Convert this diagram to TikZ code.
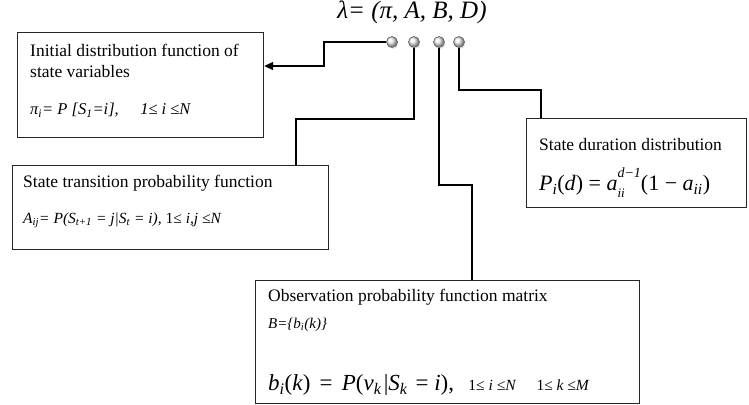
\documentclass[tikz,border=0pt]{standalone}
\usepackage{fontspec}
\setmainfont{Liberation Serif}
\usetikzlibrary{arrows.meta}
\usetikzlibrary{shadows}
\tikzset{
	infobox/.style={draw=black!85, line width=1.2bp, anchor=north west, inner sep=0pt},
	boxtext/.style={anchor=west, inner sep=0pt, font=\fontsize{17.5bp}{21bp}\selectfont},
	smallformula/.style={anchor=west, inner sep=0pt, font=\fontsize{15.5bp}{18bp}\selectfont\itshape},
	bigformula/.style={anchor=west, inner sep=0pt, font=\fontsize{22bp}{26bp}\selectfont\itshape},
	param/.style={circle, draw=gray!75!black, line width=0.6bp, minimum size=11bp, inner sep=0pt,
		shading=ball, ball color=gray!12,
		drop shadow={shadow xshift=1bp, shadow yshift=-1.5bp, opacity=0.2}},
	link/.style={line width=1.3bp}
}

\begin{document}
\begin{tikzpicture}[x=1bp, y=-1bp]
	\useasboundingbox (0,0) rectangle (749,404);
	% model
	\node[font=\fontsize{25bp}{30bp}\selectfont\itshape] (lambda) at (412,12) {λ= (π, A, B, D)};
	\node[param] (pi) at (392,42) {};
	\node[param] (A) at (414,42) {};
	\node[param] (B) at (439,42) {};
	\node[param] (D) at (459,42) {};
	% boxes
	\node[infobox, minimum width=246bp, minimum height=105bp] (init) at (17,32) {};
	\node[infobox, minimum width=316bp, minimum height=84bp] (trans) at (12,165) {};
	\node[infobox, minimum width=220bp, minimum height=89bp] (dur) at (526,118) {};
	\node[infobox, minimum width=384bp, minimum height=123bp] (obs) at (255,280) {};
	% texts
	\node[boxtext] (initA) at (30,50) {Initial distribution function of};
	\node[boxtext] (initB) at (30,72) {state variables};
	\node[smallformula, font=\fontsize{16.5bp}{19bp}\selectfont\itshape] (initF) at (30,110)
		{π\textsubscript{i}= P [S\textsubscript{1}=i],\hspace{1.3em}1≤ i ≤N};
	\node[boxtext] (transA) at (23,183) {State transition probability function};
	\node[smallformula] (transF) at (23,220)
		{A\textsubscript{ij}= P(S\textsubscript{t+1} = j|S\textsubscript{t} = i), \textup{1≤} i,j ≤N};
	\node[boxtext] (durA) at (539,145) {State duration distribution};
	\node[bigformula] (durF) at (539,183)
		{P\textsubscript{i}\textup{(}d\textup{) = }a\rlap{\raisebox{-0.32em}{\fontsize{13bp}{13bp}\selectfont ii}}\raisebox{0.6em}{\fontsize{14bp}{14bp}\selectfont d−1}\textup{(1 − }a\textsubscript{ii}\textup{)}};
	\node[boxtext] (obsA) at (268,297) {Observation probability function matrix};
	\node[smallformula, font=\fontsize{15bp}{18bp}\selectfont\itshape] (obsB) at (268,325) {B=\{b\textsubscript{i}(k)\}};
	\node[bigformula, font=\fontsize{23bp}{27bp}\selectfont\itshape] (obsF) at (268,385)
		{b\textsubscript{i}\textup{(}k\textup{)\hspace{0.15em} = \hspace{0.15em}}P\textup{(}v\textsubscript{k}\hspace{0.1em}\textup{|}S\textsubscript{k} \textup{\hspace{0.1em}= }i\textup{),}};
	\node[smallformula, anchor=base west] (obsR) at ([xshift=14bp]obsF.base east)
		{\textup{1≤} i ≤N\hspace{1.3em}\textup{1≤} k ≤M};
	% connectors
	\coordinate (pielbow) at (324,66);
	\coordinate (Aelbow) at (296,119);
	\coordinate (Belbow) at (472,185);
	\coordinate (Delbow) at (541,90);
	\draw[link, -{Triangle[length=9bp, width=8bp]}] (pi.west) -| (pielbow) -- (init.east |- pielbow);
	\draw[link] (A.south) |- (Aelbow) -- (trans.north -| Aelbow);
	\draw[link] (B.south) |- (Belbow) -- (obs.north -| Belbow);
	\draw[link] (D.south) |- (Delbow) -- (dur.north -| Delbow);
\end{tikzpicture}
\end{document}
